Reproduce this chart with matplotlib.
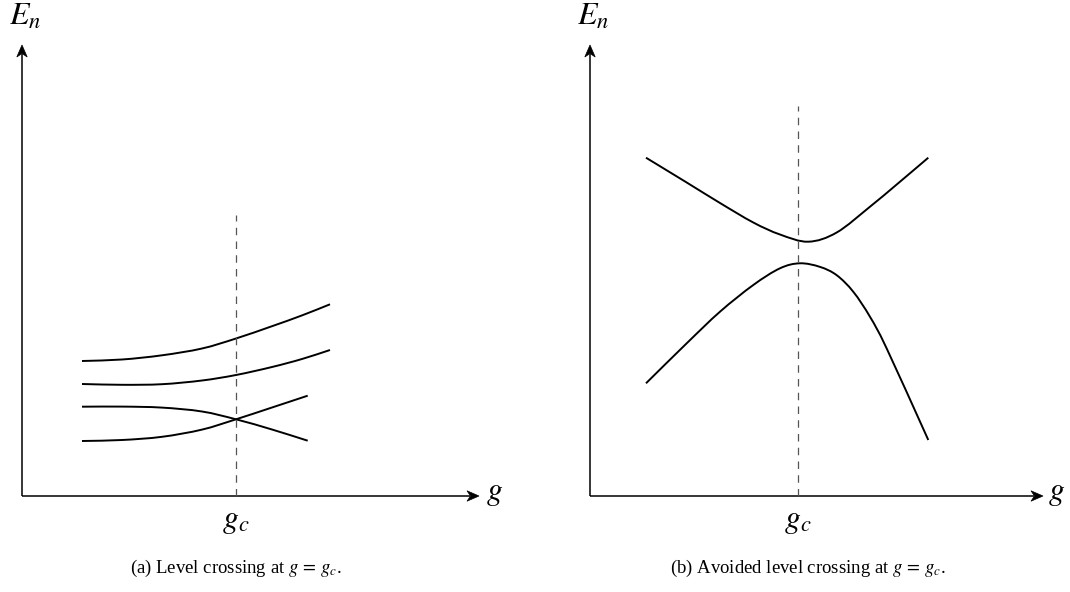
import matplotlib
matplotlib.use("Agg")
import matplotlib.pyplot as plt
import numpy as np
from matplotlib.path import Path
from matplotlib.patches import PathPatch, Polygon

plt.rcParams['font.family'] = ['Liberation Serif', 'DejaVu Serif']
plt.rcParams['mathtext.fontset'] = 'stix'

# (a) level crossing: four levels, the lower two cross at g_c
gc_a = 2.14
g_upper = [0.60, 1.00, 1.40, 1.80, 2.14, 2.50, 2.80, 3.08]
e_level1 = [1.35, 1.365, 1.407, 1.475, 1.575, 1.698, 1.806, 1.917]
e_level2 = [1.12, 1.112, 1.118, 1.155, 1.21, 1.29, 1.37, 1.46]
g_lower = [0.60, 1.00, 1.40, 1.80, 2.14, 2.50, 2.857]
e_level3 = [0.893, 0.894, 0.884, 0.845, 0.767, 0.665, 0.553]
e_level4 = [0.55, 0.56, 0.592, 0.664, 0.767, 0.885, 1.003]

# (b) avoided crossing: two levels repel near g_c
gc_b = 2.08
g_top = [0.56, 0.967, 1.30, 1.633, 1.90, 2.183, 2.467, 2.80, 3.067, 3.383]
e_top = [3.383, 3.135, 2.93, 2.735, 2.615, 2.543, 2.635, 2.893, 3.115, 3.383]
g_bot = [0.56, 0.967, 1.30, 1.633, 1.90, 2.10, 2.30, 2.467, 2.633, 2.80,
         2.967, 3.383]
e_bot = [1.127, 1.527, 1.843, 2.11, 2.277, 2.327, 2.291, 2.208, 2.042,
         1.792, 1.475, 0.56]

LW = 1.4


def smooth_curve(ax, g, e):
    # Catmull-Rom spline through the sampled levels, drawn as cubic beziers
    pts = np.column_stack([g, e])
    ext = np.vstack([2 * pts[0] - pts[1], pts, 2 * pts[-1] - pts[-2]])
    verts = [pts[0]]
    codes = [Path.MOVETO]
    for i in range(1, len(ext) - 2):
        c1 = ext[i] + (ext[i + 1] - ext[i - 1]) / 6
        c2 = ext[i + 1] - (ext[i + 2] - ext[i]) / 6
        verts += [c1, c2, ext[i + 1]]
        codes += [Path.CURVE4] * 3
    ax.add_patch(PathPatch(Path(verts, codes), fill=False, lw=LW,
                           edgecolor='black', capstyle='butt'))


def arrow_head(ax, tip, direction):
    # stealth-style head with a notched back
    d = np.array(direction, float)
    n = np.array([-d[1], d[0]])
    tip = np.array(tip, float)
    pts = [tip, tip - 0.12 * d + 0.052 * n, tip - 0.085 * d,
           tip - 0.12 * d - 0.052 * n]
    ax.add_patch(Polygon(pts, closed=True, facecolor='black',
                         edgecolor='black', lw=0.5))


def draw_axes(ax, x_tip, y_tip, gc, dash_top, caption, cap_x, e_x, g_x):
    ax.plot([0, x_tip - 0.09], [0, 0], color='black', lw=1.1,
            solid_capstyle='butt')
    ax.plot([0, 0], [0, y_tip - 0.09], color='black', lw=1.1,
            solid_capstyle='butt')
    arrow_head(ax, (x_tip, 0), (1, 0))
    arrow_head(ax, (0, y_tip), (0, 1))
    ax.plot([gc, gc], [0, dash_top], color='#555555', lw=0.9,
            dashes=(6, 5))
    ax.text(e_x, 4.79, r'$E_n$', fontsize=23, ha='center', va='center')
    ax.text(g_x, 0.02, r'$g$', fontsize=23, ha='center', va='center')
    ax.text(gc, -0.25, r'$g_c$', fontsize=23, ha='center', va='center')
    ax.text(cap_x, -0.72, caption, fontsize=13.5, ha='center', va='center')


fig = plt.figure(figsize=(10.7, 5.92), dpi=100)
ax_a = fig.add_axes([0, 0, 0.5, 1])
ax_b = fig.add_axes([0.5, 0, 0.5, 1])
ax_a.set_xlim(-0.22, 5.13)
ax_b.set_xlim(-0.55, 4.80)
for ax in (ax_a, ax_b):
    ax.set_ylim(-0.96, 4.96)
    ax.axis('off')

draw_axes(ax_a, 4.57, 4.51, gc_a, 2.81,
          r'(a) Level crossing at $g\,=\,g_c$.', 2.14, 0.03, 4.73)
for e in (e_level1, e_level2):
    smooth_curve(ax_a, g_upper, e)
for e in (e_level3, e_level4):
    smooth_curve(ax_a, g_lower, e)

draw_axes(ax_b, 4.53, 4.51, gc_b, 3.90,
          r'(b) Avoided level crossing at $g\,=\,g_c$.', 2.18, 0.03, 4.67)
smooth_curve(ax_b, g_top, e_top)
smooth_curve(ax_b, g_bot, e_bot)

fig.savefig('out.png', dpi=100, facecolor='white')
